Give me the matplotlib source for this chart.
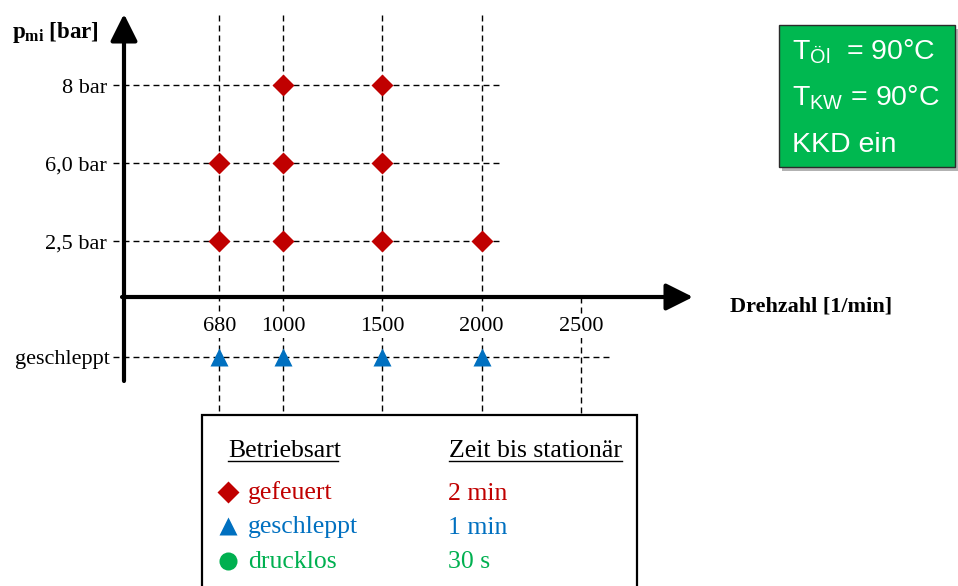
import matplotlib
matplotlib.use("Agg")
import matplotlib.pyplot as plt
from matplotlib.patches import Rectangle

# ---- data -------------------------------------------------------------
rpm_ticks = [680, 1000, 1500, 2000, 2500]
pressure_labels = ["2,5 bar", "6,0 bar", "8 bar"]          # bottom to top
fired_rpm = {
    "8 bar": [1000, 1500],
    "6,0 bar": [680, 1000, 1500],
    "2,5 bar": [680, 1000, 1500, 2000],
}
motored_label = "geschleppt"
motored_rpm = [680, 1000, 1500, 2000]

legend_modes = ["gefeuert", "geschleppt", "drucklos"]
legend_times = ["2 min", "1 min", "30 s"]
legend_markers = ["D", "^", "o"]
legend_colors = ["#C00000", "#0070C0", "#00B050"]

conditions = [r"$\mathsf{T_{Öl}}$  = 90°C", r"$\mathsf{T_{KW}}$ = 90°C", "KKD ein"]

# ---- figure setup -------------------------------------------------------
W, H = 958, 586
plt.rcParams["mathtext.fontset"] = "custom"
plt.rcParams["mathtext.bf"] = "Liberation Serif:bold"
plt.rcParams["mathtext.rm"] = "Liberation Serif"
plt.rcParams["mathtext.sf"] = "Liberation Sans"
SERIF = "Liberation Serif"
SANS = "Liberation Sans"

fig = plt.figure(figsize=(W / 100, H / 100), dpi=100)
ax = fig.add_axes([0, 0, 1, 1])

# speed axis: linear in rpm; operating-point levels: one unit per row
px_per_rpm, x0_px = 0.1986, 84.4
ax.set_xlim(-x0_px / px_per_rpm, (W - x0_px) / px_per_rpm)
row_px, row0_px = 78.0, 319.0
ax.set_ylim((row0_px - H) / row_px, row0_px / row_px)
ax.axis("off")

level = {lab: i + 1 for i, lab in enumerate(pressure_labels)}
motored_level = -0.487
axis_level = 0.282


def fx(x):
    return x / W


def fy(y):
    return 1 - y / H


xt = ax.get_xaxis_transform()
yt = ax.get_yaxis_transform()
dash = dict(color="black", lw=1.0, linestyle=(0, (4.3, 2.9)), zorder=1)

# dashed guide lines
for r in rpm_ticks:
    top = fy(15) if r != rpm_ticks[-1] else fy(297)
    ax.plot([r, r], [top, fy(415)], transform=xt, **dash)
for lab in pressure_labels:
    ax.plot([fx(113), fx(503)], [level[lab], level[lab]], transform=yt, **dash)
ax.plot([fx(113), fx(610)], [motored_level, motored_level], transform=yt, **dash)

# axis arrows
arrow = dict(arrowstyle="-|>,head_length=0.4,head_width=0.2", lw=3,
             color="black", mutation_scale=41, shrinkA=0, shrinkB=0)
ax.annotate("", xy=(fx(124), fy(14)), xytext=(fx(124), fy(381)),
            xycoords="axes fraction", textcoords="axes fraction",
            arrowprops=arrow, zorder=4)
ax.annotate("", xy=(fx(693), axis_level), xytext=(fx(122), axis_level),
            xycoords=yt, textcoords=yt, arrowprops=arrow, zorder=4)

# operating points
for lab, rpms in fired_rpm.items():
    ax.plot(rpms, [level[lab]] * len(rpms), linestyle="none", marker="D",
            ms=11.3, color=legend_colors[0], mec="none", zorder=5)
ax.plot(motored_rpm, [motored_level] * len(motored_rpm), linestyle="none",
        marker="^", ms=12.5, color=legend_colors[1], mec="none", zorder=5)

# row labels
for lab in pressure_labels:
    ax.annotate(lab, xy=(fx(113), level[lab]), xycoords=yt,
                xytext=(-6, -8), textcoords="offset pixels",
                ha="right", va="baseline", family=SERIF, fontsize=16)
ax.annotate(motored_label, xy=(fx(113), motored_level), xycoords=yt,
            xytext=(-3, -7), textcoords="offset pixels",
            ha="right", va="baseline", family=SERIF, fontsize=16)

# speed tick labels
for r in rpm_ticks:
    ax.text(r, fy(331), str(r), transform=xt, ha="center", va="baseline",
            family=SERIF, fontsize=16, zorder=3,
            bbox=dict(facecolor="white", edgecolor="none", pad=1.5))

# axis titles
ax.text(fx(12), fy(38), r"$\mathbf{p_{mi}}$ [bar]", transform=ax.transAxes,
        family=SERIF, fontweight="bold", fontsize=16.5, ha="left", va="baseline")
ax.text(fx(730), fy(312), "Drehzahl [1/min]", transform=ax.transAxes,
        family=SERIF, fontweight="bold", fontsize=16, ha="left", va="baseline")

# condition box
ax.add_patch(Rectangle((fx(782), fy(171)), fx(955 - 779), (167 - 25) / H,
                       transform=ax.transAxes, facecolor="#7f7f7f",
                       edgecolor="none", alpha=0.6, zorder=6))
ax.add_patch(Rectangle((fx(779), fy(167)), fx(955 - 779), (167 - 25) / H,
                       transform=ax.transAxes, facecolor="#00B850",
                       edgecolor="#2b2b2b", lw=1.0, zorder=7))
for i, s in enumerate(conditions):
    ax.text(fx(792), fy(59 + 46.5 * i), s, transform=ax.transAxes,
            family=SANS, fontsize=20.5, color="white", ha="left",
            va="baseline", zorder=8)

# legend box
ax.add_patch(Rectangle((fx(202), fy(600)), fx(637 - 202), (600 - 415) / H,
                       transform=ax.transAxes, facecolor="white",
                       edgecolor="black", lw=1.6, zorder=6))
for xs, xe, s in [(228, 338, "Betriebsart"), (449, 622, "Zeit bis stationär")]:
    ax.text(fx(xs), fy(457), s, transform=ax.transAxes, family=SERIF,
            fontsize=18.5, ha="left", va="baseline", zorder=8)
    ax.plot([fx(xs), fx(xe)], [fy(460.5), fy(460.5)], transform=ax.transAxes,
            color="black", lw=1.0, zorder=8)
row_y = [492, 526, 561]
msizes = [11.7, 13, 13]
for i in range(3):
    ax.plot([fx(228)], [fy(row_y[i])], transform=ax.transAxes,
            marker=legend_markers[i], ms=msizes[i], color=legend_colors[i],
            mec="none", linestyle="none", zorder=8)
    ax.text(fx(248), fy(row_y[i] + 7.5), legend_modes[i], transform=ax.transAxes,
            family=SERIF, fontsize=18.5, color=legend_colors[i], ha="left",
            va="baseline", zorder=8)
    ax.text(fx(448), fy(row_y[i] + 7.5), legend_times[i], transform=ax.transAxes,
            family=SERIF, fontsize=18.5, color=legend_colors[i], ha="left",
            va="baseline", zorder=8)

fig.savefig("out.png", dpi=100, facecolor="white")
